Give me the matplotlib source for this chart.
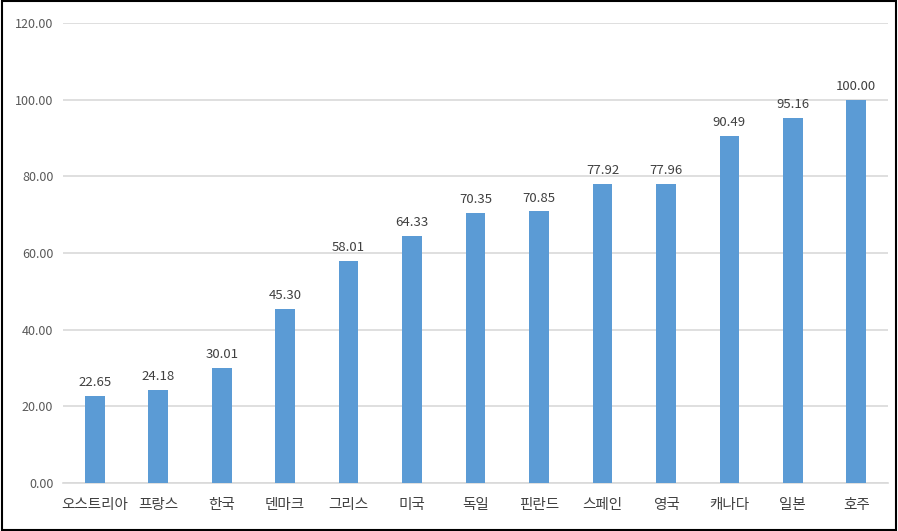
import numpy as np
import matplotlib
matplotlib.use("Agg")
import matplotlib.pyplot as plt
from matplotlib.patches import Rectangle

plt.rcParams['font.family'] = ['Noto Sans CJK KR', 'DejaVu Sans']

countries = ['오스트리아', '프랑스', '한국', '덴마크', '그리스', '미국', '독일',
             '핀란드', '스페인', '영국', '캐나다', '일본', '호주']
values = [22.65, 24.18, 30.01, 45.30, 58.01, 64.33, 70.35,
          70.85, 77.92, 77.96, 90.49, 95.16, 100.00]
yticks = [0, 20, 40, 60, 80, 100, 120]

fig = plt.figure(figsize=(8.98, 5.31), dpi=100)
ax = fig.add_axes([0.0702, 0.0904, 0.9187, 0.8663])

x = np.arange(len(countries))
bars = ax.bar(x, values, width=0.31, color='#5B9BD5', zorder=3)

for xi, v in zip(x, values):
    ax.text(xi, v + 1.8, f'{v:.2f}', ha='center', va='bottom',
            fontsize=9.5, color='#404040')

ax.set_xlim(-0.5, len(countries) - 0.5)
ax.set_ylim(0, 120)
ax.set_yticks(yticks)
ax.set_yticklabels([f'{t:.2f}' for t in yticks], fontsize=9, color='#595959')
ax.set_xticks(x)
ax.set_xticklabels(countries, fontsize=10.5, color='#404040')
ax.tick_params(axis='both', length=0)
ax.tick_params(axis='y', pad=7)
ax.tick_params(axis='x', pad=11)

ax.grid(axis='y', color='#D9D9D9', linewidth=1.2, zorder=0)
for s in ['top', 'right', 'left']:
    ax.spines[s].set_visible(False)
ax.spines['bottom'].set_color('#D9D9D9')
ax.spines['bottom'].set_linewidth(1.2)

# outer frame
fig.patches.append(Rectangle((0.002, 0.002), 0.996, 0.996, transform=fig.transFigure,
                             fill=False, edgecolor='black', linewidth=1.5))

fig.savefig('out.png', dpi=100)
